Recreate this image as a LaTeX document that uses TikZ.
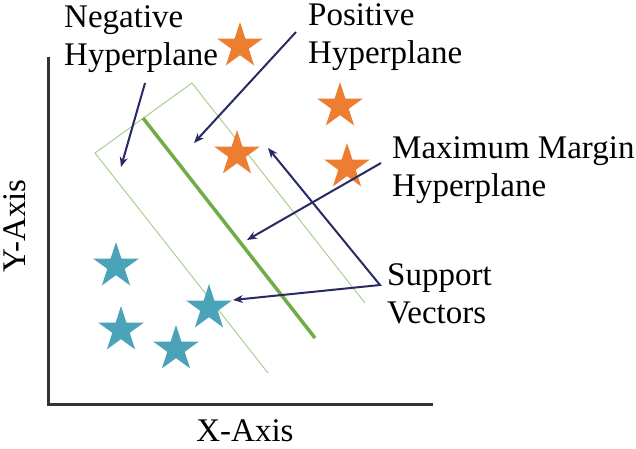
\documentclass[tikz,border=0pt]{standalone}
\usepackage{fontspec}
\setmainfont{Liberation Serif}
\usetikzlibrary{shapes.geometric,arrows.meta}
\definecolor{orangestar}{RGB}{237,125,49}
\definecolor{tealstar}{RGB}{75,163,185}
\definecolor{margingreen}{RGB}{112,173,71}
\definecolor{navyarrow}{RGB}{40,42,100}
\tikzset{>={Stealth[length=10pt,width=8pt]}}
\tikzset{
  starmark/.style={star,star points=5,star point ratio=2.618,
    minimum size=48pt,inner sep=0pt,draw=none,fill=#1},
  labeltext/.style={font=\fontsize{33}{38}\selectfont,align=left,
    inner sep=0pt,anchor=base west},
  pointer/.style={->,navyarrow,line width=2pt}
}
\begin{document}
\begin{tikzpicture}[x=1pt,y=-1pt]
    \useasboundingbox (0,0) rectangle (636,448);
    % axes
    \draw[line width=3pt,black!80] (48,57)--(48,404)--(433,404);
    \node[labeltext,anchor=base] (xlab) at (245,441) {X-Axis};
    \node[labeltext,anchor=base,rotate=90] (ylab) at (25,226) {Y-Axis};
    % margin band
    \draw[margingreen!60,line width=1pt] (268,373)--(95,153)--(192,83)--(365,303);
    \draw[margingreen,line width=3.5pt] (143,118)--(315,338);
    % classes
    \foreach \p [count=\i] in {(240,46),(340,106),(237,154),(347,167)}
        \node[starmark=orangestar] (pos\i) at \p {};
    \foreach \p [count=\i] in {(116,266),(121,330),(176,349),(209,308)}
        \node[starmark=tealstar] (neg\i) at \p {};
    % labels (anchored on the last line)
    \node[labeltext] (neglab) at (64,65) {Negative\\Hyperplane};
    \node[labeltext] (poslab) at (308,63) {Positive\\Hyperplane};
    \node[labeltext] (maxlab) at (392,196) {Maximum Margin\\Hyperplane};
    \node[labeltext] (svlab) at (387,323) {Support\\Vectors};
    \coordinate (negfrom) at (145,83);
    \coordinate (negto) at (121,167);
    \coordinate (posfrom) at (296,32);
    \coordinate (posto) at (194,143);
    \coordinate (maxfrom) at (381,163);
    \coordinate (maxto) at (247,240);
    \coordinate (svfrom) at (380,285);
    \coordinate (svto1) at (268,148);
    \coordinate (svto2) at (233,300);
    \draw[pointer] (negfrom) -- (negto);
    \draw[pointer] (posfrom) -- (posto);
    \draw[pointer] (maxfrom) -- (maxto);
    \draw[pointer,<->] (svto1) -- (svfrom) -- (svto2);
\end{tikzpicture}
\end{document}
